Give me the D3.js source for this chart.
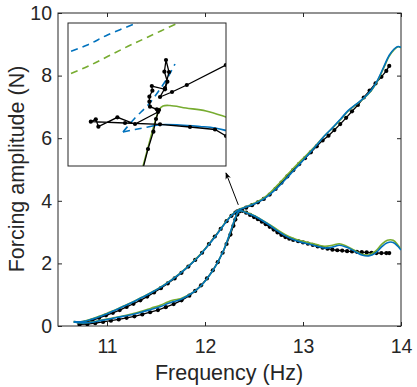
<!DOCTYPE html>
<html>
<head>
<meta charset="utf-8">
<script src="https://cdn.jsdelivr.net/npm/d3@7"></script>
<style>
  body { margin: 0; background: #fff; }
  svg { font-family: "Liberation Sans", Arial, Helvetica, sans-serif; }
</style>
</head>
<body>
<svg width="417" height="387"></svg>
<script>
// ---- data ----
// upper branch (rises from 10.7 Hz through the fold up to 14 Hz)
var upExpF = [10.72,10.78,10.85,10.92,10.99,11.06,11.13,11.2,11.27,11.34,11.41,11.48,11.55,11.62,11.69,11.76,11.83,11.9,11.97,12.04,12.1,12.16,12.22,12.27,12.31,12.33,
              12.36,12.42,12.48,12.54,12.6,12.66,12.72,12.78,12.84,12.9,12.96,13.02,13.08,13.14,13.2,13.26,13.32,13.38,13.44,13.5,13.56,13.62,13.68,13.74,13.8,13.85,13.88];
var upExpA = [0.08,0.12,0.18,0.26,0.34,0.42,0.51,0.61,0.71,0.82,0.94,1.07,1.21,1.36,1.52,1.7,1.9,2.11,2.34,2.62,2.86,3.1,3.35,3.52,3.62,3.66,
              3.7,3.78,3.86,3.95,4.06,4.2,4.38,4.58,4.78,4.98,5.17,5.36,5.55,5.74,5.93,6.08,6.26,6.45,6.65,6.86,7.06,7.3,7.52,7.75,7.96,8.15,8.31];
var upBlueF = [10.66,10.75,10.85,10.95,11.05,11.15,11.25,11.35,11.45,11.55,11.65,11.75,11.85,11.95,12.05,12.15,12.22,12.28,12.34,12.42,12.5,12.58,12.66,12.74,12.82,12.9,12.98,13.06,13.14,13.22,13.3,13.38,13.46,13.54,13.62,13.7,13.76,13.82,13.88,13.93,13.97,14.0];
var upBlueA = [0.14,0.14,0.22,0.33,0.46,0.6,0.74,0.9,1.06,1.24,1.45,1.69,1.96,2.27,2.64,3.05,3.35,3.56,3.7,3.8,3.9,4.02,4.2,4.42,4.68,4.95,5.22,5.5,5.78,6.08,6.33,6.6,6.88,7.08,7.28,7.55,7.85,8.25,8.65,8.85,8.93,8.9];
var upGreenA = [0.14,0.14,0.23,0.34,0.47,0.61,0.75,0.91,1.07,1.25,1.46,1.7,1.97,2.28,2.65,3.06,3.36,3.57,3.71,3.81,3.92,4.05,4.25,4.5,4.77,5.03,5.29,5.54,5.8,6.08,6.32,6.58,6.86,7.07,7.27,7.53,7.83,8.22,8.62,8.83,8.92,8.89];

// lower branch (stays low, climbs steeply near 12.3 Hz, then falls to the right)
var loExpF = [10.72,10.8,10.88,10.96,11.04,11.12,11.2,11.28,11.36,11.44,11.52,11.6,11.68,11.76,11.84,11.9,11.96,12.02,12.08,12.13,12.18,12.22,12.26,12.29,12.31,12.33,12.35,
              12.38,12.42,12.46,12.5,12.54,12.58,12.62,12.66,12.7,12.74,12.78,12.82,12.86,12.9,12.95,13.0,13.05,13.1,13.15,13.2,13.25,13.3,13.35,13.4,13.45,13.5,13.55,13.6,13.65,13.7,13.75,13.8,13.85,13.88];
var loExpA = [0.05,0.06,0.09,0.13,0.17,0.21,0.26,0.31,0.37,0.44,0.51,0.6,0.7,0.82,0.97,1.12,1.3,1.52,1.78,2.04,2.34,2.62,2.92,3.2,3.4,3.56,3.66,
              3.68,3.62,3.55,3.48,3.41,3.33,3.25,3.17,3.08,2.99,2.91,2.84,2.79,2.75,2.71,2.67,2.63,2.59,2.54,2.5,2.47,2.44,2.42,2.41,2.39,2.38,2.37,2.36,2.35,2.34,2.33,2.33,2.33,2.33];
var loBlueF = [10.66,10.75,10.85,10.95,11.05,11.15,11.25,11.35,11.45,11.55,11.62,11.68,11.75,11.82,11.9,11.98,12.05,12.12,12.18,12.23,12.27,12.3,12.33,12.36,
               12.42,12.5,12.58,12.66,12.74,12.82,12.9,12.98,13.06,13.14,13.22,13.3,13.37,13.44,13.52,13.6,13.67,13.74,13.8,13.86,13.92,13.97,14.0];
var loBlueA = [0.13,0.1,0.12,0.18,0.24,0.3,0.36,0.44,0.53,0.62,0.72,0.78,0.85,0.96,1.12,1.36,1.64,1.98,2.35,2.75,3.1,3.38,3.6,3.68,
               3.62,3.52,3.38,3.22,3.04,2.88,2.76,2.68,2.62,2.55,2.49,2.52,2.58,2.52,2.4,2.27,2.24,2.33,2.52,2.66,2.67,2.54,2.43];
var loGreenA = [0.13,0.1,0.13,0.19,0.25,0.31,0.38,0.47,0.57,0.67,0.77,0.83,0.87,0.97,1.12,1.36,1.64,1.98,2.35,2.75,3.1,3.38,3.6,3.68,
                3.63,3.53,3.39,3.24,3.07,2.92,2.8,2.72,2.66,2.6,2.55,2.58,2.63,2.56,2.43,2.29,2.27,2.39,2.6,2.74,2.74,2.58,2.45];

// inset (zoom of the fold near 12.34 Hz, 3.65 N)
var insetF = [12.300, 12.379], insetA = [3.600, 3.743];
var inExp1F = [12.3373,12.340,12.3427,12.344,12.3455,12.3444,12.341,12.3407,12.3407,12.3422,12.3419,12.3485,12.3497,12.3482,12.349,12.3505,12.3485,12.346,12.352,12.3594,12.3789];
var inExp1A = [3.596,3.617,3.6343,3.647,3.656,3.6567,3.6593,3.6643,3.6693,3.6753,3.680,3.6767,3.6843,3.6943,3.706,3.694,3.678,3.669,3.674,3.681,3.701];
var inExp2F = [12.345,12.3335,12.3247,12.3152,12.3139,12.3114,12.3285,12.346,12.361,12.3735,12.379];
var inExp2A = [3.654,3.642,3.6487,3.6393,3.6467,3.6443,3.643,3.6417,3.639,3.6365,3.630];
var inBlueF = [12.340,12.346,12.356,12.366,12.3735,12.379,12.382];
var inBlueA = [3.639,3.6413,3.641,3.6395,3.638,3.6355,3.634];
var inGreenF = [12.337,12.341,12.3435,12.3455,12.3475,12.351,12.359,12.369,12.379,12.382];
var inGreenA = [3.596,3.626,3.644,3.656,3.660,3.6605,3.658,3.655,3.649,3.647];
var inBlueDashUpF = [12.3275,12.3335,12.340,12.345,12.350,12.3535];
var inBlueDashUpA = [3.634,3.648,3.661,3.674,3.689,3.702];
var inBlueDashFlatF = [12.3275,12.3335,12.340];
var inBlueDashFlatA = [3.634,3.6365,3.639];
var inBlueDashTopF = [12.296,12.300,12.310,12.320,12.3342,12.3385];
var inBlueDashTopA = [3.7105,3.7137,3.7213,3.7313,3.743,3.747];
var inGreenDashTopF = [12.296,12.300,12.310,12.320,12.330,12.340,12.355,12.3585];
var inGreenDashTopA = [3.688,3.6913,3.6997,3.7097,3.7197,3.729,3.743,3.746];

var xTicks = [11, 12, 13, 14];
var yTicks = [0, 2, 4, 6, 8, 10];
// ---- end data ----

var blue = "#0072BD", green = "#77AC30", axisCol = "#262626";

function zip(f, a) { return f.map(function(v, i) { return [v, a[i]]; }); }

var svg = d3.select("svg");
var x = d3.scaleLinear().domain([10.5, 14]).range([58, 401]),
    y = d3.scaleLinear().domain([0, 10]).range([326, 13]);

svg.append("clipPath").attr("id", "plotclip")
   .append("rect").attr("x", 58).attr("y", 13).attr("width", 343).attr("height", 313);

// axes (ticks point inward on all four sides)
var gx = svg.append("g").attr("transform", "translate(0,326)")
   .call(d3.axisBottom(x).tickValues(xTicks).tickFormat(d3.format("d")).tickSizeInner(-4).tickSizeOuter(0).tickPadding(13));
var gxTop = svg.append("g").attr("transform", "translate(0,13)")
   .call(d3.axisTop(x).tickValues(xTicks).tickSizeInner(-4).tickSizeOuter(0).tickFormat(""));
var gy = svg.append("g").attr("transform", "translate(58,0)")
   .call(d3.axisLeft(y).tickValues(yTicks).tickFormat(d3.format("d")).tickSizeInner(-4).tickSizeOuter(0).tickPadding(6));
var gyR = svg.append("g").attr("transform", "translate(401,0)")
   .call(d3.axisRight(y).tickValues(yTicks).tickSizeInner(-4).tickSizeOuter(0).tickFormat(""));

[gx, gxTop, gy, gyR].forEach(function(g) {
  g.select(".domain").remove();
  g.selectAll("line").attr("stroke", axisCol);
  g.selectAll("text").attr("fill", axisCol).style("font-size", "19.5px");
});
svg.append("rect").attr("x", 58).attr("y", 13).attr("width", 343).attr("height", 313)
   .attr("fill", "none").attr("stroke", axisCol).attr("stroke-width", 1);

svg.append("text").attr("x", 229).attr("y", 380).attr("text-anchor", "middle")
   .attr("fill", axisCol).style("font-size", "21.5px").text("Frequency (Hz)");
svg.append("text").attr("transform", "translate(24,169) rotate(-90)").attr("text-anchor", "middle")
   .attr("fill", axisCol).style("font-size", "21.5px").text("Forcing amplitude (N)");

// curves
var plot = svg.append("g").attr("clip-path", "url(#plotclip)");
var smooth = d3.line().x(function(d) { return x(d[0]); }).y(function(d) { return y(d[1]); }).curve(d3.curveCatmullRom);
var straight = d3.line().x(function(d) { return x(d[0]); }).y(function(d) { return y(d[1]); });

function expSeries(g, pts, line, sx, sy) {
  g.append("path").attr("d", line(pts)).attr("fill", "none").attr("stroke", "#000").attr("stroke-width", 1.3);
  g.selectAll(null).data(pts).enter().append("circle")
   .attr("cx", function(d) { return sx(d[0]); }).attr("cy", function(d) { return sy(d[1]); })
   .attr("r", 2.1).attr("fill", "#000");
}

expSeries(plot, zip(upExpF, upExpA), straight, x, y);
expSeries(plot, zip(loExpF, loExpA), straight, x, y);
plot.append("path").attr("d", smooth(zip(upBlueF, upGreenA))).attr("fill", "none").attr("stroke", green).attr("stroke-width", 1.6);
plot.append("path").attr("d", smooth(zip(loBlueF, loGreenA))).attr("fill", "none").attr("stroke", green).attr("stroke-width", 1.6);
plot.append("path").attr("d", smooth(zip(upBlueF, upBlueA))).attr("fill", "none").attr("stroke", blue).attr("stroke-width", 1.6);
plot.append("path").attr("d", smooth(zip(loBlueF, loBlueA))).attr("fill", "none").attr("stroke", blue).attr("stroke-width", 1.6);

// arrow pointing to inset
svg.append("defs").append("marker").attr("id", "head").attr("viewBox", "0 0 10 10")
   .attr("refX", 9).attr("refY", 5).attr("markerWidth", 7).attr("markerHeight", 7).attr("orient", "auto")
   .append("path").attr("d", "M0,1 L10,5 L0,9 L3,5 Z").attr("fill", "#000");
svg.append("line").attr("x1", x(12.34)).attr("y1", y(3.87)).attr("x2", x(12.214)).attr("y2", y(4.89))
   .attr("stroke", "#000").attr("stroke-width", 1).attr("marker-end", "url(#head)");

// inset
var ix = d3.scaleLinear().domain(insetF).range([68, 226]),
    iy = d3.scaleLinear().domain(insetA).range([166, 23]);
svg.append("clipPath").attr("id", "insetclip")
   .append("rect").attr("x", 68).attr("y", 23).attr("width", 158).attr("height", 143);
svg.append("rect").attr("x", 68).attr("y", 23).attr("width", 158).attr("height", 143).attr("fill", "#fff");
var ins = svg.append("g").attr("clip-path", "url(#insetclip)");
var icurve = d3.line().x(function(d) { return ix(d[0]); }).y(function(d) { return iy(d[1]); }).curve(d3.curveCatmullRom);
var ilin = d3.line().x(function(d) { return ix(d[0]); }).y(function(d) { return iy(d[1]); });

function ipath(pts, col, dash) {
  ins.append("path").attr("d", icurve(pts)).attr("fill", "none").attr("stroke", col)
     .attr("stroke-width", 1.6).attr("stroke-dasharray", dash ? "7,5" : null);
}
ipath(zip(inBlueDashTopF, inBlueDashTopA), blue, true);
ipath(zip(inGreenDashTopF, inGreenDashTopA), green, true);
ipath(zip(inGreenF, inGreenA), green, false);
ipath(zip(inBlueF, inBlueA), blue, false);
ipath(zip(inBlueDashUpF, inBlueDashUpA), blue, true);
ipath(zip(inBlueDashFlatF, inBlueDashFlatA), blue, true);
expSeries(ins, zip(inExp1F, inExp1A), ilin, ix, iy);
expSeries(ins, zip(inExp2F, inExp2A), ilin, ix, iy);

svg.append("rect").attr("x", 68).attr("y", 23).attr("width", 158).attr("height", 143)
   .attr("fill", "none").attr("stroke", axisCol).attr("stroke-width", 1);
</script>
</body>
</html>
